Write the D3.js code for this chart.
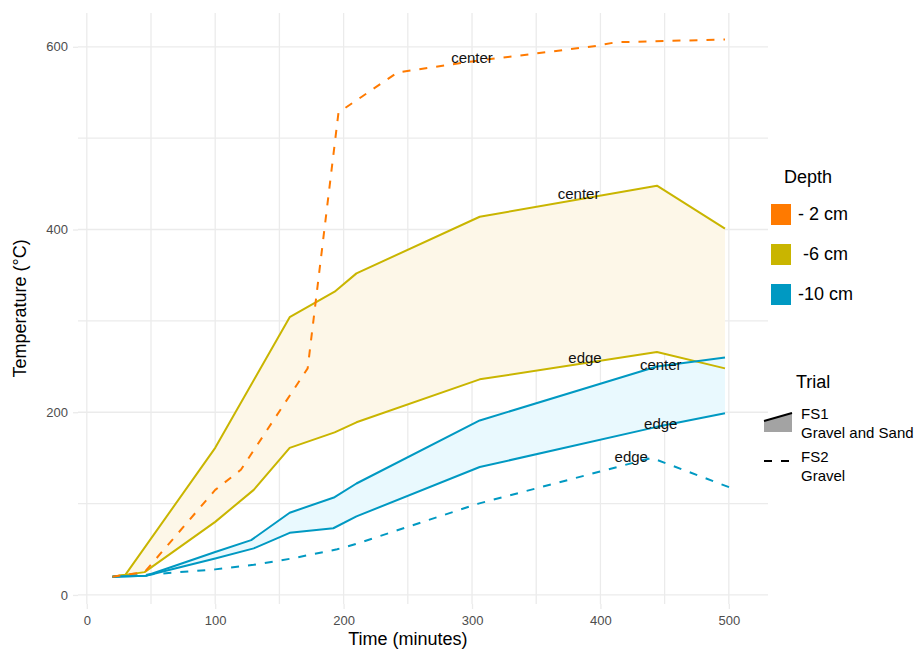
<!DOCTYPE html>
<html>
<head>
<meta charset="utf-8">
<script src="https://cdn.jsdelivr.net/npm/d3@7"></script>
<style>
  body { margin: 0; background: #fff; }
  svg text { font-family: "Liberation Sans", Arial, sans-serif; }
</style>
</head>
<body>
<svg id="chart" width="919" height="652"></svg>
<script>
// ---------------- data ----------------
const xTicks = [0, 100, 200, 300, 400, 500];
const yTicks = [0, 200, 400, 600];
const depthLabels = ["- 2 cm", " -6 cm", "-10 cm"];
const trialLabels = [["FS1", "Gravel and Sand"], ["FS2", "Gravel"]];

// -2 cm, FS2 (dashed), center
const orangeCenterX = [20, 45, 100, 120, 172, 196, 242, 300, 397, 412, 497];
const orangeCenterY = [20, 25, 115, 137, 248, 528, 572, 584, 601, 605, 608];
// -6 cm, FS1 center / edge
const yellowCenterX = [20, 30, 100, 158, 193, 210, 306, 444, 497];
const yellowCenterY = [20, 22, 161, 304, 332, 352, 414, 448, 401];
const yellowEdgeX = [20, 45, 100, 130, 158, 193, 210, 306, 444, 497];
const yellowEdgeY = [20, 25, 80, 115, 161, 178, 189, 236, 266, 248];
// -10 cm, FS1 center / edge
const blueCenterX = [20, 46, 100, 128, 158, 193, 210, 306, 444, 497];
const blueCenterY = [20, 21, 47, 60, 90, 107, 122, 191, 250, 260];
const blueEdgeX = [20, 46, 100, 130, 158, 192, 210, 306, 444, 497];
const blueEdgeY = [20, 21, 40, 51, 68, 73, 86, 140, 184, 199];
// -10 cm, FS2 (dashed), edge
const blueDashX = [20, 45, 100, 130, 160, 195, 210, 305, 440, 502];
const blueDashY = [20, 22, 28, 33, 40, 50, 56, 100, 150, 117];

// annotation labels
const annText = ["center", "center", "edge", "center", "edge", "edge"];
const annX = [300, 383, 388, 447, 447, 424];
const annY = [588, 439, 260, 252, 188, 152];

// ---------------- setup ----------------
const colOrange = "#FF7A00", colYellow = "#C9B500", colBlue = "#0099C2";
const fillYellow = "#FDF7E8", fillBlue = "#E9F9FE";
const zip = (xs, ys) => xs.map((x, i) => [x, ys[i]]);

const svg = d3.select("#chart");
const L = 78, R = 768, T = 13, B = 604;
const x = d3.scaleLinear().domain([-6.85, 530.5]).range([L, R]);
const y = d3.scaleLinear().domain([-9.9, 637]).range([B, T]);

// grid
const g = svg.append("g");
const minorX = [50, 150, 250, 350, 450];
const minorY = [100, 300, 500];
g.selectAll(".vg").data(xTicks.concat(minorX)).enter().append("line")
  .attr("x1", d => x(d)).attr("x2", d => x(d)).attr("y1", T).attr("y2", B)
  .attr("stroke", "#EBEBEB").attr("stroke-width", 1.3);
g.selectAll(".hg").data(yTicks.concat(minorY)).enter().append("line")
  .attr("y1", d => y(d)).attr("y2", d => y(d)).attr("x1", L).attr("x2", R)
  .attr("stroke", "#EBEBEB").attr("stroke-width", 1.3);

// axes (ticks & labels)
const xAxis = d3.axisBottom(x).tickValues(xTicks).tickSize(5).tickPadding(7);
const yAxis = d3.axisLeft(y).tickValues(yTicks).tickSize(5).tickPadding(5);
const gx = svg.append("g").attr("transform", `translate(0,${B})`).call(xAxis);
const gy = svg.append("g").attr("transform", `translate(${L},0)`).call(yAxis);
[gx, gy].forEach(a => {
  a.select(".domain").remove();
  a.selectAll(".tick line").attr("stroke", "#EBEBEB").attr("stroke-width", 1.3);
  a.selectAll(".tick text").attr("fill", "#4D4D4D").style("font-size", "13px")
    .style("font-family", "'Liberation Sans', Arial, sans-serif");
});

// axis titles
svg.append("text").attr("x", x(250)).attr("y", 645).attr("text-anchor", "middle")
  .style("font-size", "18px").attr("fill", "#000").text("Time (minutes)");
svg.append("text").attr("transform", `translate(26,${(T + B) / 2}) rotate(-90)`)
  .attr("text-anchor", "middle").style("font-size", "18px").attr("fill", "#000")
  .text("Temperature (°C)");

// ---------------- ribbons ----------------
const line = d3.line().x(d => x(d[0])).y(d => y(d[1]));
function ribbon(upper, lower, fill) {
  const pts = upper.concat(lower.slice().reverse());
  svg.append("path").attr("d", line(pts) + "Z").attr("fill", fill).attr("stroke", "none");
}
ribbon(zip(yellowCenterX, yellowCenterY), zip(yellowEdgeX, yellowEdgeY), fillYellow);
ribbon(zip(blueCenterX, blueCenterY), zip(blueEdgeX, blueEdgeY), fillBlue);

// ---------------- lines ----------------
function drawLine(pts, color, dashed) {
  svg.append("path").attr("d", line(pts)).attr("fill", "none")
    .attr("stroke", color).attr("stroke-width", 2)
    .attr("stroke-linejoin", "round")
    .attr("stroke-dasharray", dashed ? "8,9" : null);
}
drawLine(zip(yellowCenterX, yellowCenterY), colYellow, false);
drawLine(zip(yellowEdgeX, yellowEdgeY), colYellow, false);
drawLine(zip(blueDashX, blueDashY), colBlue, true);
drawLine(zip(blueEdgeX, blueEdgeY), colBlue, false);
drawLine(zip(blueCenterX, blueCenterY), colBlue, false);
drawLine(zip(orangeCenterX, orangeCenterY), colOrange, true);

// annotations
svg.selectAll(".ann").data(annText).enter().append("text")
  .attr("x", (d, i) => x(annX[i])).attr("y", (d, i) => y(annY[i]))
  .attr("text-anchor", "middle").attr("dominant-baseline", "central")
  .style("font-size", "15px").attr("fill", "#111").text(d => d);

// ---------------- legends ----------------
const lg = svg.append("g");
lg.append("text").attr("x", 784).attr("y", 183).style("font-size", "18px").text("Depth");
const depthCols = [colOrange, colYellow, colBlue];
depthLabels.forEach((lab, i) => {
  const cy = 214 + i * 40;
  lg.append("rect").attr("x", 771).attr("y", cy - 10).attr("width", 20).attr("height", 21)
    .attr("fill", depthCols[i]);
  lg.append("text").attr("x", 798).attr("y", cy + 6).style("font-size", "18px")
    .attr("xml:space", "preserve").style("white-space", "pre").text(lab);
});

lg.append("text").attr("x", 796).attr("y", 388).style("font-size", "18px").text("Trial");
// FS1 key: grey ribbon with solid top line
lg.append("path").attr("d", "M764,421 L792,413 L792,432 L764,432 Z").attr("fill", "#A3A3A3");
lg.append("path").attr("d", "M764,421 L792,413").attr("stroke", "#000").attr("stroke-width", 2).attr("fill", "none");
// FS2 key: dashed line
lg.append("path").attr("d", "M764,461 L793,461").attr("stroke", "#000").attr("stroke-width", 2)
  .attr("stroke-dasharray", "8,9").attr("fill", "none");
trialLabels.forEach((labs, i) => {
  const ty = 419 + i * 43;
  lg.append("text").attr("x", 801).attr("y", ty).style("font-size", "15px").text(labs[0]);
  lg.append("text").attr("x", 801).attr("y", ty + 19).style("font-size", "15px").text(labs[1]);
});
</script>
</body>
</html>
